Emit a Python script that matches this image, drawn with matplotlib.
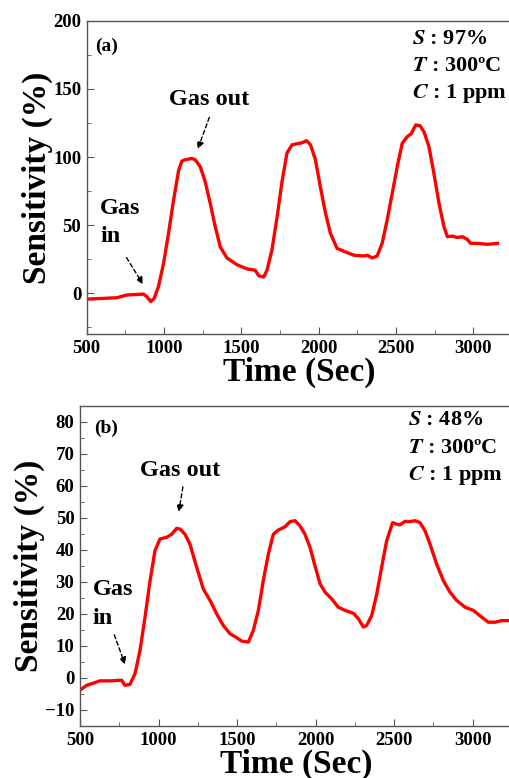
import matplotlib.pyplot as plt
from matplotlib.ticker import MultipleLocator

plt.rcParams['font.family'] = ['Liberation Serif', 'DejaVu Serif']
plt.rcParams['font.weight'] = 'bold'
plt.rcParams['axes.labelweight'] = 'bold'
plt.rcParams['mathtext.fontset'] = 'stix'

# panel (a)
time_a = [504, 694, 759, 867, 889, 915, 936, 964, 997, 1029, 1061, 1094, 1115, 1137,
          1180, 1202, 1234, 1266, 1299, 1331, 1364, 1407, 1472, 1536, 1590, 1612,
          1644, 1666, 1698, 1731, 1763, 1795, 1828, 1871, 1893, 1921, 1947, 1979,
          2011, 2044, 2076, 2119, 2162, 2227, 2292, 2314, 2346, 2378, 2411, 2443,
          2475, 2508, 2540, 2573, 2598, 2627, 2655, 2681, 2713, 2745, 2778, 2810,
          2832, 2864, 2896, 2929, 2961, 2983, 3026, 3091, 3156]
sens_a = [-4.2, -3.2, -1.2, -0.5, -2.4, -6, -3.7, 5, 22, 44, 68, 90, 97, 98,
          99, 98, 93, 82, 66, 49, 34, 26, 21, 18, 17, 13,
          12, 17, 32, 56, 82, 103, 109, 110, 110.5, 112, 109, 98,
          78, 59, 44, 33, 31, 28, 27.4, 28, 26, 27.4, 37, 54,
          73, 93, 110, 115, 117, 123.5, 123, 118.5, 107.6, 88, 66, 49,
          41.6, 42, 41, 41.6, 39.6, 36.7, 36.7, 36, 36.7]

# panel (b)
time_b = [500, 542, 585, 627, 691, 765, 786, 818, 850, 882, 914, 946, 977, 1009,
          1052, 1084, 1115, 1137, 1168, 1200, 1243, 1285, 1328, 1370, 1412, 1455,
          1497, 1529, 1572, 1603, 1635, 1667, 1699, 1731, 1763, 1805, 1837, 1869,
          1900, 1932, 1964, 1996, 2028, 2060, 2102, 2144, 2187, 2240, 2272, 2304,
          2325, 2357, 2389, 2420, 2452, 2490, 2516, 2537, 2569, 2601, 2633, 2664,
          2696, 2728, 2770, 2813, 2855, 2898, 2951, 3004, 3057, 3099, 3142, 3184, 3231]
sens_b = [-3.8, -2.3, -1.6, -0.9, -0.9, -0.7, -2.3, -2, 1.3, 8.6, 19, 30.4, 39.7, 43.4,
          43.9, 44.9, 46.7, 46.5, 44.9, 41.8, 34.5, 27.8, 24.2, 20, 16.4, 13.8,
          12.6, 11.5, 11.2, 14.8, 21, 30.4, 38.7, 44.9, 46.2, 47.2, 48.8, 49.1,
          47.5, 44.9, 40.8, 35, 29.4, 26.8, 24.7, 22.1, 21.1, 20.2, 18.5, 15.9,
          16.4, 19.5, 26.2, 34.5, 42.8, 48.5, 48, 47.8, 48.9, 48.8, 49.1, 48.5,
          46, 41.8, 35.6, 30.4, 26.8, 24.2, 22.1, 21.1, 19, 17.4, 17.4, 17.9, 17.9]

fig = plt.figure(figsize=(5.09, 7.78), dpi=100)
ax1 = fig.add_axes([86.7 / 509, 1 - 334.3 / 778, (512 - 86.7) / 509, (334.3 - 20.7) / 778])
ax2 = fig.add_axes([80 / 509, 1 - 726 / 778, (512 - 80) / 509, (726 - 405.7) / 778])

def style(ax, ylim, major, minor):
    ax.set_xlim(500, 3250)
    ax.set_ylim(*ylim)
    ax.xaxis.set_major_locator(MultipleLocator(500))
    ax.xaxis.set_minor_locator(MultipleLocator(250))
    ax.yaxis.set_major_locator(MultipleLocator(major))
    ax.yaxis.set_minor_locator(MultipleLocator(minor))
    ax.tick_params(which='both', direction='in', top=False, right=False,
                   labelsize=13.5, color='#555555', pad=4)
    ax.tick_params(which='major', length=5)
    ax.tick_params(which='minor', length=3)
    for s in ax.spines.values():
        s.set_color('#555555')
        s.set_linewidth(1.0)
    ax.set_xlabel('Time (Sec)', fontsize=24, fontweight='bold', labelpad=0)
    ax.set_ylabel('Sensitivity (%)', fontsize=24, fontweight='bold', labelpad=0)

arrow = dict(arrowstyle='-|>', linestyle=(0, (3, 2)), color='black', lw=1.0,
             mutation_scale=10)

# (a)
ax1.plot(time_a, sens_a, color='#ff0000', lw=2.4)
style(ax1, (-30, 200), 50, 25)
ax1.text(554, 178, '(a)', fontsize=14)
ax1.text(586, 58, 'Gas', fontsize=17.5)
ax1.text(586, 38, 'in', fontsize=17.5)
ax1.annotate('', xy=(873, 5), xytext=(748, 28), arrowprops=arrow)
ax1.text(1029, 138, 'Gas out', fontsize=17.5)
ax1.annotate('', xy=(1212, 104), xytext=(1299, 131), arrowprops=arrow)
ax1.text(2605, 183, r'$\mathbfit{S}$ : 97%', fontsize=16)
ax1.text(2605, 163, r'$\mathbfit{T}$ : 300ºC', fontsize=16)
ax1.text(2605, 143, r'$\mathbfit{C}$ : 1 ppm', fontsize=16)

# (b)
ax2.plot(time_b, sens_b, color='#ff0000', lw=2.4)
style(ax2, (-15, 85), 10, 5)
ax2.text(589, 76.5, '(b)', fontsize=14)
ax2.text(581, 26, 'Gas', fontsize=17.5)
ax2.text(581, 17, 'in', fontsize=17.5)
ax2.annotate('', xy=(793, 3.4), xytext=(712, 14.3), arrowprops=arrow)
ax2.text(882, 63, 'Gas out', fontsize=17.5)
ax2.annotate('', xy=(1126, 51), xytext=(1158, 60.5), arrowprops=arrow)
ax2.text(2590, 79, r'$\mathbfit{S}$ : 48%', fontsize=16)
ax2.text(2590, 70.3, r'$\mathbfit{T}$ : 300ºC', fontsize=16)
ax2.text(2590, 61.7, r'$\mathbfit{C}$ : 1 ppm', fontsize=16)

fig.savefig('out.png', dpi=100)
